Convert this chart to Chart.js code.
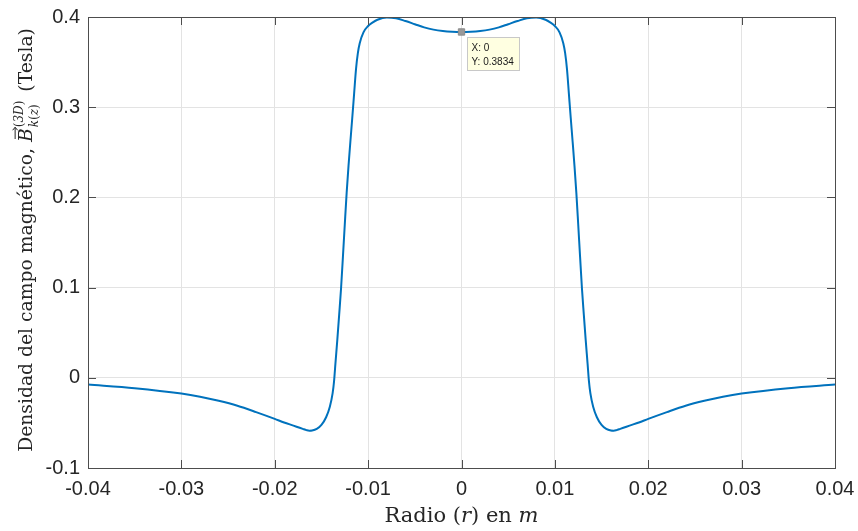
<!DOCTYPE html>
<html>
<head>
<meta charset="utf-8">
<script src="https://cdn.jsdelivr.net/npm/chart.js@4.4.0/dist/chart.umd.min.js"></script>
<style>
  html, body { margin: 0; padding: 0; background: #fff; }
  #wrap { width: 858px; height: 531px; }
</style>
</head>
<body>
<div id="wrap"><canvas id="myChart" width="858" height="531"></canvas></div>
<script>
// radio (m) and campo magnetico (T)
var radio = [
  -0.04, -0.035, -0.03, -0.028, -0.026, -0.024, -0.022, -0.02, -0.019, -0.018,
  -0.0175, -0.017, -0.0166, -0.0163, -0.016, -0.0155, -0.015, -0.0145, -0.0141, -0.0138,
  -0.01365, -0.0135, -0.0133, -0.0131, -0.0129, -0.0127, -0.0125, -0.0123, -0.0121, -0.0119,
  -0.0117, -0.0115, -0.0113, -0.0111, -0.0109, -0.0105, -0.01, -0.0095, -0.009, -0.008,
  -0.007, -0.006, -0.005, -0.004, -0.003, -0.002, -0.001, 0,
  0.001, 0.002, 0.003, 0.004, 0.005, 0.006, 0.007, 0.008, 0.009, 0.0095,
  0.01, 0.0105, 0.0109, 0.0111, 0.0113, 0.0115, 0.0117, 0.0119, 0.0121, 0.0123,
  0.0125, 0.0127, 0.0129, 0.0131, 0.0133, 0.0135, 0.01365, 0.0138, 0.0141, 0.0145,
  0.015, 0.0155, 0.016, 0.0163, 0.0166, 0.017, 0.0175, 0.018, 0.019, 0.02,
  0.022, 0.024, 0.026, 0.028, 0.03, 0.035, 0.04
];
var campo = [
  -0.0075, -0.0115, -0.0175, -0.021, -0.0255, -0.031, -0.038, -0.0455, -0.0495, -0.053,
  -0.0548, -0.0566, -0.058, -0.0586, -0.0584, -0.0566, -0.0522, -0.0437, -0.032, -0.017,
  -0.004, 0.016, 0.042, 0.07, 0.099, 0.134, 0.17, 0.205, 0.235, 0.262,
  0.288, 0.315, 0.342, 0.36, 0.371, 0.383, 0.390, 0.394, 0.397, 0.3995,
  0.3985, 0.3955, 0.392, 0.3885, 0.386, 0.3845, 0.3837, 0.3834,
  0.3837, 0.3845, 0.386, 0.3885, 0.392, 0.3955, 0.3985, 0.3995, 0.397, 0.394,
  0.390, 0.383, 0.371, 0.36, 0.342, 0.315, 0.288, 0.262, 0.235, 0.205,
  0.17, 0.134, 0.099, 0.07, 0.042, 0.016, -0.004, -0.017, -0.032, -0.0437,
  -0.0522, -0.0566, -0.0584, -0.0586, -0.058, -0.0566, -0.0548, -0.053, -0.0495, -0.0455,
  -0.038, -0.031, -0.0255, -0.021, -0.0175, -0.0115, -0.0075
];
var xTicks = [-0.04, -0.03, -0.02, -0.01, 0, 0.01, 0.02, 0.03, 0.04];
var yTicks = [-0.1, 0, 0.1, 0.2, 0.3, 0.4];
var tipX = [0];
var tipY = [0.3834];

var puntos = radio.map(function (r, i) { return { x: r, y: campo[i] }; });
var tip = [{ x: tipX[0], y: tipY[0] }];

var axisColor = '#4d4d4d';
var textColor = '#262626';
var serif = '"DejaVu Serif", "Liberation Serif", serif';
var sans = '"Liberation Sans", Arial, sans-serif';

function fmt(v) {
  return String(Math.round(v * 1000) / 1000);
}

// box, inward tick marks, axis titles, data tip
var matlabLook = {
  id: 'matlabLook',
  afterDatasetsDraw: function (chart) {
    var c = chart.ctx, a = chart.chartArea;
    var xs = chart.scales.x, ys = chart.scales.y;
    c.save();
    c.strokeStyle = axisColor;
    c.lineWidth = 1;
    c.beginPath();
    xTicks.forEach(function (t) {
      var px = Math.round(xs.getPixelForValue(t)) + 0.5;
      c.moveTo(px, a.bottom); c.lineTo(px, a.bottom - 8);
      c.moveTo(px, a.top); c.lineTo(px, a.top + 8);
    });
    yTicks.forEach(function (t) {
      var py = Math.round(ys.getPixelForValue(t)) + 0.5;
      c.moveTo(a.left, py); c.lineTo(a.left + 8, py);
      c.moveTo(a.right, py); c.lineTo(a.right - 8, py);
    });
    c.stroke();
    c.strokeRect(Math.round(a.left) + 0.5, Math.round(a.top) + 0.5,
      Math.round(a.right - a.left), Math.round(a.bottom - a.top));

    // data tip box
    var mx = xs.getPixelForValue(tipX[0]);
    var my = ys.getPixelForValue(tipY[0]);
    var bx = Math.round(mx) + 5.5, by = Math.round(my) + 5.5;
    c.fillStyle = '#ffffe1';
    c.strokeStyle = '#c8c8c8';
    c.fillRect(bx, by, 52, 33);
    c.strokeRect(bx, by, 52, 33);
    c.fillStyle = '#1a1a1a';
    c.font = '10px ' + sans;
    c.textBaseline = 'alphabetic';
    c.textAlign = 'left';
    c.fillText('X: ' + fmt(tipX[0]), bx + 4, by + 13);
    c.fillText('Y: ' + tipY[0], bx + 4, by + 27);

    function fnt(s, it) { return (it ? 'italic ' : '') + s + 'px ' + serif; }

    // x title, sized to the reference width
    var segs = [
      { t: 'Radio (', it: false },
      { t: 'r', it: true },
      { t: ') en ', it: false },
      { t: 'm', it: true }
    ];
    var w = 0;
    segs.forEach(function (s) { c.font = fnt(20, s.it); w += c.measureText(s.t).width; });
    var fsx = Math.min(21, 20 * 158 / w);
    w = 0;
    segs.forEach(function (s) { c.font = fnt(fsx, s.it); s.w = c.measureText(s.t).width; w += s.w; });
    var cx = (a.left + a.right) / 2 - w / 2;
    c.fillStyle = textColor;
    segs.forEach(function (s) { c.font = fnt(fsx, s.it); c.fillText(s.t, cx, 522); cx += s.w; });

    // y title (rotated), sized to the reference length
    var parts1 = 'Densidad del campo magnético, ';
    function layoutY(fs) {
      var ss = Math.round(fs * 0.64);
      var L = { fs: fs, ss: ss };
      c.font = fnt(fs, false); L.w1 = c.measureText(parts1).width;
      c.font = fnt(fs, true); L.wB = c.measureText('B').width;
      c.font = fnt(ss, false);
      L.w3 = Math.max(c.measureText('(3D)').width, c.measureText('k(z)').width) + 3;
      c.font = fnt(fs, false); L.w4 = c.measureText(' (Tesla)').width;
      L.total = L.w1 + L.wB + 1 + L.w3 + L.w4;
      return L;
    }
    var L = layoutY(20);
    L = layoutY(20 * 424 / L.total);
    var fs = L.fs, ss = L.ss;
    c.save();
    c.translate(32, 240);
    c.rotate(-Math.PI / 2);
    var x0 = -L.total / 2;
    c.fillStyle = textColor;
    c.font = fnt(fs, false);
    c.fillText(parts1, x0, 0);
    x0 += L.w1;
    c.font = fnt(fs, true);
    c.fillText('B', x0, 0);
    // arrow above B
    c.strokeStyle = textColor;
    c.lineWidth = 1;
    c.beginPath();
    var ay = -fs * 0.9;
    c.moveTo(x0 + 3, ay); c.lineTo(x0 + L.wB + 1, ay);
    c.moveTo(x0 + L.wB - 2, ay - 2.5); c.lineTo(x0 + L.wB + 1, ay); c.lineTo(x0 + L.wB - 2, ay + 2.5);
    c.stroke();
    x0 += L.wB + 1;
    var supY = -fs * 0.48, subY = fs * 0.32;
    function run(list, y) {
      var xx = x0;
      list.forEach(function (p) {
        c.font = fnt(ss, p[1]);
        c.fillText(p[0], xx, y);
        xx += c.measureText(p[0]).width;
      });
    }
    run([['(', false], ['3D', true], [')', false]], supY);
    run([['k', true], ['(', false], ['z', true], [')', false]], subY);
    x0 += L.w3;
    c.font = fnt(fs, false);
    c.fillText(' (Tesla)', x0, 0);
    c.restore();
    c.restore();
  }
};

var ctx = document.getElementById('myChart');
var myChart = new Chart(ctx, {
  type: 'scatter',
  data: {
    datasets: [{
      label: 'B',
      data: puntos,
      showLine: true,
      borderColor: '#0072BD',
      backgroundColor: '#0072BD',
      borderWidth: 2,
      pointRadius: 0,
      cubicInterpolationMode: 'monotone',
      order: 2
    }, {
      label: 'tip',
      data: tip,
      showLine: false,
      pointStyle: 'rect',
      pointRadius: 4.5,
      backgroundColor: '#999999',
      borderColor: '#8c8c8c',
      borderWidth: 1,
      order: 1
    }]
  },
  options: {
    responsive: false,
    animation: false,
    layout: { padding: { left: 0, right: 23, top: 17, bottom: 0 } },
    plugins: {
      legend: { display: false },
      tooltip: { enabled: false }
    },
    scales: {
      x: {
        type: 'linear',
        min: -0.04,
        max: 0.04,
        afterBuildTicks: function (s) { s.ticks = xTicks.map(function (v) { return { value: v }; }); },
        afterFit: function (s) { s.height = 63; s.paddingRight = 0; s.paddingLeft = 0; },
        ticks: {
          padding: 9,
          color: textColor,
          font: { family: sans, size: 20 },
          callback: function (v) { return fmt(v); },
          maxRotation: 0
        },
        grid: { color: '#e3e3e3', drawTicks: false, tickLength: 0 },
        border: { display: false }
      },
      y: {
        type: 'linear',
        min: -0.1,
        max: 0.4,
        afterBuildTicks: function (s) { s.ticks = yTicks.map(function (v) { return { value: v }; }); },
        afterFit: function (s) { s.width = 88; s.paddingTop = 0; s.paddingBottom = 0; },
        ticks: {
          padding: 8,
          color: textColor,
          font: { family: sans, size: 20 },
          callback: function (v) { return fmt(v); }
        },
        grid: { color: '#e3e3e3', drawTicks: false, tickLength: 0 },
        border: { display: false }
      }
    }
  },
  plugins: [matlabLook]
});
</script>
</body>
</html>
